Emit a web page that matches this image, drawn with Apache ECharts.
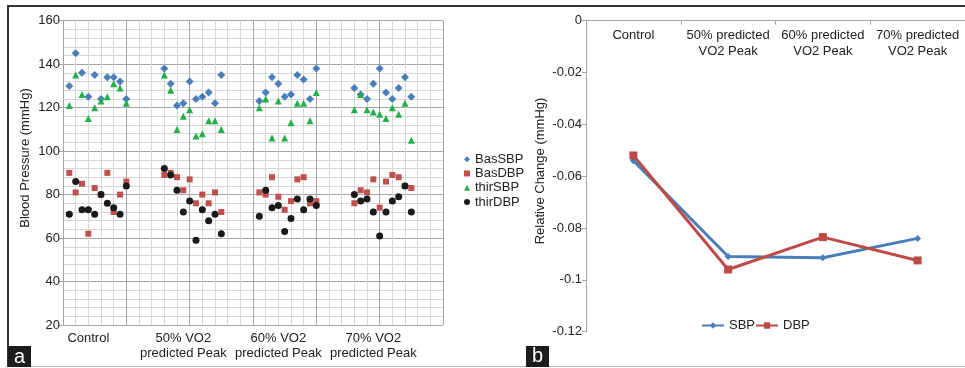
<!DOCTYPE html>
<html>
<head>
<meta charset="utf-8">
<script src="https://cdn.jsdelivr.net/npm/echarts@6/dist/echarts.min.js"></script>
<style>
html,body{margin:0;padding:0;background:#fff;}
#c{width:965px;height:368px;}
</style>
</head>
<body>
<div id="c"></div>
<script>
// ---- data (panel a) ----
var groupLabels = ['Control', '50% VO2\npredicted Peak', '60% VO2\npredicted Peak', '70% VO2\npredicted Peak'];
var basSBP = [
  [130,145,136,125,135,124,134,134,132,124],
  [138,131,121,122,132,124,125,127,122,135],
  [123,127,134,131,125,126,135,133,124,138],
  [129,126,124,131,138,127,124,129,134,125]
];
var basDBP = [
  [90,81,85,62,83,80,90,72,80,86],
  [89,90,88,82,87,76,80,76,81,72],
  [81,80,88,79,73,77,87,88,76,77],
  [76,82,81,87,74,86,89,88,84,83]
];
var thirSBP = [
  [121,135,126,115,120,123,125,131,129,122],
  [135,128,110,116,119,107,108,114,114,110],
  [120,124,106,123,106,113,122,122,114,127],
  [119,126,119,118,117,115,120,117,122,105]
];
var thirDBP = [
  [71,86,73,73,71,80,76,74,71,84],
  [92,89,82,72,77,59,73,68,71,62],
  [70,82,74,75,63,69,78,73,78,75],
  [80,77,78,72,61,72,77,79,84,72]
];
var bpTicks = [20, 40, 60, 80, 100, 120, 140, 160];

// ---- data (panel b) ----
var relCategories = ['Control', '50% predicted\nVO2 Peak', '60% predicted\nVO2 Peak', '70% predicted\nVO2 Peak'];
var relSBP = [-0.054, -0.091, -0.0915, -0.084];
var relDBP = [-0.052, -0.096, -0.0835, -0.0925];

// ---- build ----
var GROUP_STEP = 15, GROUP_FIRST = 1;
function toPoints(groups) {
  var out = [];
  groups.forEach(function (g, gi) {
    g.forEach(function (v, j) { out.push([GROUP_FIRST + gi * GROUP_STEP + j, v]); });
  });
  return out;
}
var labelAt = {}, labelValues = [];
groupLabels.forEach(function (l, i) {
  var p = GROUP_FIRST + i * GROUP_STEP + 3;
  labelAt[p] = l; labelValues.push(p);
});

var FONT = 'Liberation Sans, Arial, sans-serif';
var TXT = '#222';
var chart = echarts.init(document.getElementById('c'), null, {renderer: 'canvas'});
var option = {
  animation: false,
  textStyle: {fontFamily: FONT},
  grid: [
    {left: 63, top: 20.7, width: 380, height: 304.3},
    {left: 586, top: 20.7, width: 380, height: 311}
  ],
  legend: [
    {
      data: ['BasSBP', 'BasDBP', 'thirSBP', 'thirDBP'],
      orient: 'vertical', left: 459, top: 147,
      itemWidth: 6, itemHeight: 6, itemGap: 0,
      textStyle: {fontSize: 13, color: TXT, fontFamily: FONT, lineHeight: 14.3}
    },
    {
      data: ['SBP', 'DBP'],
      orient: 'horizontal', left: 696, top: 314,
      itemWidth: 22, itemHeight: 8, itemGap: 0,
      textStyle: {fontSize: 13, color: TXT, fontFamily: FONT}
    }
  ],
  xAxis: [
    {
      type: 'value', gridIndex: 0, min: 0, max: 60, interval: 10,
      axisLine: {show: true, lineStyle: {color: '#a6a6a6', width: 1}},
      axisTick: {show: false},
      axisLabel: {
        show: true, margin: 6, fontSize: 13, color: TXT, fontFamily: FONT, lineHeight: 15,
        customValues: labelValues, hideOverlap: false,
        formatter: function (v) { return labelAt[v] || ''; }
      },
      splitLine: {show: true, lineStyle: {color: '#a6a6a6', width: 1}},
      minorTick: {show: false, splitNumber: 5},
      minorSplitLine: {show: true, lineStyle: {color: '#d6d6d6', width: 1}}
    },
    {
      type: 'category', gridIndex: 1, position: 'top', data: relCategories, boundaryGap: true,
      axisLine: {show: true, onZero: false, lineStyle: {color: '#a6a6a6', width: 1}},
      axisTick: {show: true, inside: true, length: 4, lineStyle: {color: '#a6a6a6'}},
      axisLabel: {inside: true, interval: 0, hideOverlap: false, margin: 7, fontSize: 13, color: TXT,
        fontFamily: FONT, lineHeight: 16, verticalAlign: 'top'},
      splitLine: {show: false}
    }
  ],
  yAxis: [
    {
      type: 'value', gridIndex: 0, min: bpTicks[0], max: bpTicks[bpTicks.length - 1], interval: bpTicks[1] - bpTicks[0],
      axisLine: {show: true, lineStyle: {color: '#a6a6a6', width: 1}},
      axisTick: {show: true, length: 4, lineStyle: {color: '#a6a6a6'}},
      axisLabel: {margin: 3, fontSize: 13, color: TXT, fontFamily: FONT},
      splitLine: {show: true, lineStyle: {color: '#a6a6a6', width: 1}},
      minorTick: {show: false, splitNumber: 5},
      minorSplitLine: {show: true, lineStyle: {color: '#d6d6d6', width: 1}}
    },
    {
      type: 'value', gridIndex: 1, min: -0.12, max: 0, interval: 0.02,
      axisLine: {show: true, lineStyle: {color: '#a6a6a6', width: 1}},
      axisTick: {show: true, length: 4, lineStyle: {color: '#a6a6a6'}},
      axisLabel: {margin: 4, fontSize: 13, color: TXT, fontFamily: FONT,
        formatter: function (v) { return String(Math.round(v * 1000) / 1000); }},
      splitLine: {show: false}
    }
  ],
  series: [
    {name: 'BasSBP', type: 'scatter', xAxisIndex: 0, yAxisIndex: 0, data: toPoints(basSBP),
      symbol: 'diamond', symbolSize: 8, itemStyle: {color: '#4a7ebb', opacity: 1}},
    {name: 'BasDBP', type: 'scatter', xAxisIndex: 0, yAxisIndex: 0, data: toPoints(basDBP),
      symbol: 'rect', symbolSize: 6, itemStyle: {color: '#c0504d', opacity: 1}},
    {name: 'thirSBP', type: 'scatter', xAxisIndex: 0, yAxisIndex: 0, data: toPoints(thirSBP),
      symbol: 'triangle', symbolSize: 7, itemStyle: {color: '#22b04b', opacity: 1}},
    {name: 'thirDBP', type: 'scatter', xAxisIndex: 0, yAxisIndex: 0, data: toPoints(thirDBP),
      symbol: 'circle', symbolSize: 7, itemStyle: {color: '#1a1a1a', opacity: 1}},
    {name: 'SBP', type: 'line', xAxisIndex: 1, yAxisIndex: 1, data: relSBP,
      symbol: 'diamond', symbolSize: 7, showAllSymbol: true,
      lineStyle: {color: '#4a7ebb', width: 3}, itemStyle: {color: '#4a7ebb'}},
    {name: 'DBP', type: 'line', xAxisIndex: 1, yAxisIndex: 1, data: relDBP,
      symbol: 'rect', symbolSize: 8, showAllSymbol: true,
      lineStyle: {color: '#be4b48', width: 3}, itemStyle: {color: '#be4b48'}}
  ],
  graphic: [
    {type: 'line', shape: {x1: 7, y1: 6, x2: 965, y2: 6}, style: {stroke: '#333', lineWidth: 2}, silent: true},
    {type: 'line', shape: {x1: 8, y1: 5, x2: 8, y2: 367}, style: {stroke: '#333', lineWidth: 2}, silent: true},
    {type: 'line', shape: {x1: 8, y1: 366.5, x2: 965, y2: 366.5}, style: {stroke: '#bbb', lineWidth: 1}, silent: true},
    {type: 'rect', shape: {x: 8, y: 346, width: 23, height: 21}, style: {fill: '#1c1c1c'}, silent: true},
    {type: 'text', x: 19.5, y: 357, style: {text: 'a', fill: '#fff', font: '20px ' + FONT, align: 'center', verticalAlign: 'middle'}, silent: true},
    {type: 'rect', shape: {x: 526, y: 346, width: 23, height: 21}, style: {fill: '#1c1c1c'}, silent: true},
    {type: 'text', x: 537.5, y: 356, style: {text: 'b', fill: '#fff', font: '20px ' + FONT, align: 'center', verticalAlign: 'middle'}, silent: true},
    {type: 'text', x: 25, y: 158, rotation: Math.PI / 2,
      style: {text: 'Blood Pressure (mmHg)', fill: TXT, font: '13px ' + FONT, align: 'center', verticalAlign: 'middle'}, silent: true},
    {type: 'text', x: 540, y: 171, rotation: Math.PI / 2,
      style: {text: 'Relative Change (mmHg)', fill: TXT, font: '13px ' + FONT, align: 'center', verticalAlign: 'middle'}, silent: true}
  ]
};
chart.setOption(option);
</script>
</body>
</html>
